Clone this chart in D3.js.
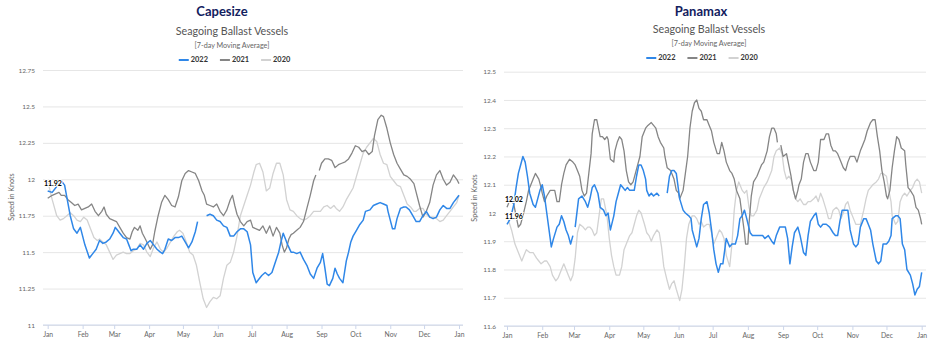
<!DOCTYPE html>
<html>
<head>
<meta charset="utf-8">
<script src="https://cdn.jsdelivr.net/npm/d3@7"></script>
<style>
  body { margin: 0; background: #fff; }
  svg text { font-family: Lato, "Open Sans", sans-serif; }
</style>
</head>
<body>
<svg id="vis" width="936" height="352"></svg>
<script>
// series names and y tick labels
const seriesNames = ['2022', '2021', '2020'];
const capeTicks = [11, 11.25, 11.5, 11.75, 12, 12.25, 12.5, 12.75];
const panaTicks = [11.6, 11.7, 11.8, 11.9, 12, 12.1, 12.2, 12.3, 12.4, 12.5];

// Capesize: day of year -> speed (knots), null = gap
const capeDays2022 = [0,4,8,12,15,20,23,26,29,31,33,37,40,43,46,49,52,55,58,60,62,64,67,70,72,74,76,79,82,85,88,91,94,97,100,102,104,107,110,113,116,119,122,125,128,131,133,137,141,144,147,150,153,156,159,162,165,168,171,174,177,180,182,185,187,190,193,196,199,202,205,207,209,211,213,216,218,221,224,227,230,233,236,239,242,244,246,248,250,253,255,257,259,262,265,267,269,271,274,277,280,282,286,289,292,295,298,301,302,304,306,308,310,313,316,318,321,324,327,330,333,336,339,342,345,348,351,354,357,360,363,365];
const cape2022 = [11.92,11.91,11.95,11.99,11.96,11.75,11.66,11.63,11.67,11.61,11.55,11.46,11.49,11.52,11.58,11.56,11.57,11.59,11.63,11.67,11.65,11.63,11.60,11.59,11.55,11.51,11.52,11.52,11.55,11.52,11.56,11.58,11.55,11.52,11.50,11.49,11.52,11.59,11.58,11.60,11.60,11.61,11.57,11.53,11.57,11.64,11.71,null,11.75,11.76,11.75,11.72,11.71,11.68,11.67,11.61,11.61,11.64,11.66,11.66,11.64,11.55,11.36,11.29,11.31,11.34,11.36,11.34,11.36,11.43,11.50,11.57,11.63,11.59,11.55,11.50,11.50,11.49,11.50,11.45,11.41,11.35,11.32,11.39,11.43,11.49,11.39,11.28,11.27,11.32,11.39,11.35,11.32,11.29,11.44,11.50,11.57,11.61,11.65,11.69,11.72,11.78,11.79,11.82,11.83,11.84,11.83,11.82,11.78,11.72,11.66,11.66,11.73,11.80,11.81,11.81,11.79,11.75,11.71,11.71,11.75,11.78,11.74,11.73,11.74,11.79,11.82,11.80,11.80,11.84,11.87,11.89];

const capeDays2021 = [0,4,7,10,12,15,18,21,24,27,30,33,36,39,42,45,48,50,52,55,58,61,64,67,70,73,75,77,80,82,84,86,88,91,93,95,98,101,104,107,110,113,116,119,122,125,128,131,134,137,139,141,144,147,150,153,156,159,162,164,166,168,171,174,177,180,182,185,188,191,194,197,200,203,206,208,210,212,214,216,218,221,224,227,230,233,236,238,239,241,243,246,249,252,255,258,261,264,267,270,273,276,279,282,285,288,290,293,296,298,301,304,307,310,313,316,319,322,325,327,330,333,336,339,342,345,348,351,354,357,360,363,365];
const cape2021 = [11.87,11.89,11.90,11.91,11.89,11.89,11.86,11.84,11.82,11.83,11.79,11.80,11.81,11.83,11.78,11.75,11.78,11.81,11.76,11.73,11.72,11.71,11.67,11.63,11.60,11.59,11.64,11.67,11.65,11.68,11.63,11.60,11.57,11.52,11.55,11.64,11.75,11.84,11.89,11.86,11.82,11.81,11.88,11.99,12.04,12.06,12.05,12.04,11.99,11.92,11.89,11.83,11.82,11.81,11.83,11.78,11.75,11.79,11.86,11.89,11.82,11.76,11.71,11.68,11.71,11.72,11.67,11.66,11.65,11.68,11.63,11.68,11.61,11.67,11.63,11.55,11.50,11.53,11.59,11.62,11.63,11.65,11.67,11.71,11.80,11.89,11.99,12.03,null,12.06,12.11,12.14,12.14,12.13,12.08,12.10,12.11,12.12,12.14,12.18,12.23,12.22,12.19,12.20,12.17,12.19,12.30,12.41,12.44,12.43,12.35,12.25,12.17,12.11,12.07,12.03,12.02,12.00,11.97,11.91,11.82,11.74,11.78,11.84,11.96,12.03,12.06,12.00,11.96,11.98,12.03,12.00,11.97];

const capeDays2020 = [0,4,8,11,14,17,20,23,26,29,32,35,38,41,44,46,49,52,55,58,61,64,67,70,73,76,79,82,85,88,91,94,97,100,103,106,109,112,115,117,120,123,126,129,132,135,138,141,144,147,150,153,156,159,162,165,168,171,174,177,180,183,185,188,191,194,197,200,203,206,209,212,215,218,221,224,227,230,233,236,239,242,245,248,251,254,256,259,262,265,268,271,274,277,280,283,286,289,292,295,298,301,304,307,310,313,316,319,322,325,327,330,333,336,339,342,345,348,351,354,357,360,363,365];
const cape2020 = [11.99,11.86,11.75,11.72,11.73,11.75,11.77,11.75,11.72,11.71,11.74,11.72,11.66,11.60,11.58,11.59,11.57,11.55,11.50,11.45,11.48,11.49,11.50,11.49,11.49,11.51,11.52,11.56,11.55,11.50,11.47,11.53,11.57,11.52,11.50,11.53,11.57,11.61,11.64,11.65,11.63,11.57,11.50,11.48,11.41,11.29,11.18,11.12,11.16,11.19,11.18,11.20,11.32,11.41,11.43,11.50,11.61,11.75,11.82,11.89,11.96,12.05,12.10,12.11,12.05,11.92,11.94,12.04,12.11,12.11,12.03,11.86,11.79,11.78,11.75,11.73,11.72,11.73,11.75,11.78,11.78,11.78,11.81,11.82,11.80,11.82,11.80,11.78,11.81,11.86,11.90,11.94,12.02,12.10,12.18,12.22,12.25,12.28,12.26,12.17,12.11,12.10,12.02,11.99,11.96,11.95,11.89,11.83,11.81,11.78,11.78,11.80,11.80,11.76,11.74,11.74,11.73,11.71,11.72,11.75,11.78,11.81,11.84,11.89];

// Panamax
const panaDays2022 = [0,3,6,8,10,12,14,16,18,20,23,25,27,29,31,33,35,37,39,41,44,46,48,50,52,54,56,58,59,60,63,66,69,71,73,75,77,80,82,85,87,89,91,94,96,98,100,102,104,106,108,110,112,114,116,118,120,122,123,125,127,129,132,134,137,141,143,145,147,149,151,152,155,157,160,162,163,165,167,169,171,173,176,178,180,182,184,186,188,190,192,193,196,198,201,203,205,207,209,211,214,216,218,220,223,225,227,230,233,235,237,240,243,245,247,249,251,253,256,258,261,263,265,267,270,272,274,276,278,281,284,287,289,291,293,295,298,300,302,305,307,309,311,314,316,318,320,322,325,327,329,331,334,336,338,339,342,344,346,348,350,352,355,357,359,361,363,365];
const pana2022 = [11.96,11.98,12.03,12.09,12.14,12.17,12.20,12.18,12.13,12.07,12.03,12.02,12.05,12.08,12.10,12.06,12.00,11.94,11.88,11.91,11.95,11.96,11.99,11.97,11.94,11.92,11.89,11.92,null,11.95,12.05,12.06,12.04,12.02,12.05,12.09,12.10,12.07,12.02,12.01,11.99,12.00,11.94,11.99,12.04,12.07,12.10,12.09,12.08,12.09,12.08,12.08,12.08,12.13,12.17,12.17,12.15,12.12,12.08,12.06,12.07,12.06,12.07,12.06,null,12.07,12.13,12.15,12.15,12.14,12.08,12.05,12.01,12.00,11.99,11.98,11.94,11.91,11.88,11.91,11.98,12.03,12.04,12.00,11.94,11.87,11.82,11.79,11.82,11.82,11.88,11.91,11.88,11.89,11.89,11.92,11.98,11.99,12.01,11.98,11.93,11.92,11.92,11.92,11.92,11.92,11.91,11.92,11.90,11.89,11.92,11.95,11.95,11.95,11.91,11.82,11.88,11.93,11.95,11.92,11.86,11.85,11.92,11.97,11.99,12.00,11.96,11.95,11.96,11.96,11.95,11.93,11.92,11.92,11.97,12.01,12.01,12.01,11.94,11.89,11.88,11.89,11.95,11.98,11.98,11.96,11.94,11.89,11.83,11.82,11.83,11.89,11.89,11.90,11.92,11.98,11.99,11.99,11.98,11.89,11.87,11.80,11.78,11.75,11.71,11.73,11.74,11.79];

const panaDays2021 = [0,3,6,8,10,12,14,17,19,21,23,25,28,30,31,33,35,38,40,42,44,46,48,50,52,55,58,60,62,64,66,68,70,72,74,75,77,79,80,82,84,86,88,89,91,94,95,97,99,101,103,105,107,109,111,113,115,117,119,122,124,127,129,131,133,135,138,139,141,144,146,147,149,151,152,155,157,159,161,163,165,167,169,171,173,176,178,180,182,185,187,189,191,193,196,198,200,202,205,207,209,210,212,213,215,217,220,222,224,226,229,231,233,235,237,238,239,241,243,246,248,250,252,254,256,257,259,261,263,265,267,270,272,274,276,279,281,283,285,287,289,291,293,296,298,300,302,304,306,308,311,313,315,317,320,322,324,326,328,330,332,334,335,337,339,341,343,345,347,350,351,353,355,358,360,362,364,365];
const pana2021 = [12.02,12.05,12.03,11.99,11.95,11.96,11.99,12.04,12.08,12.10,12.12,12.14,12.12,12.09,12.07,12.04,12.06,12.08,12.08,12.08,12.04,12.04,12.10,12.14,12.17,12.19,12.18,12.17,12.15,12.13,12.08,12.06,12.07,12.14,12.21,12.28,12.33,12.33,12.31,12.27,12.27,12.26,12.27,12.26,12.19,12.18,12.22,12.25,12.27,12.26,12.22,12.15,12.11,12.10,12.11,12.14,12.17,12.20,12.27,12.30,12.31,12.32,12.31,12.30,12.27,12.25,12.23,12.20,12.16,12.15,12.13,12.12,12.08,12.07,12.05,12.08,12.14,12.20,12.30,12.36,12.39,12.40,12.37,12.36,12.33,12.33,12.31,12.29,12.25,12.21,12.21,12.25,12.22,12.18,12.15,12.14,12.12,12.08,12.05,11.99,11.93,11.89,11.89,11.96,12.06,12.11,12.13,12.15,12.17,12.18,12.22,12.27,12.30,12.30,12.28,12.25,null,12.24,12.20,12.21,12.17,12.13,12.08,12.05,12.08,12.10,12.12,12.18,12.21,12.21,12.18,12.15,12.15,12.18,12.26,12.26,12.28,12.28,12.24,12.22,12.22,12.21,12.19,12.16,12.15,12.18,12.20,12.20,12.20,12.18,12.22,12.24,12.26,12.29,12.32,12.33,12.33,12.27,12.22,12.15,12.11,12.06,12.05,12.08,12.16,12.22,12.27,12.26,12.23,12.22,12.17,12.09,12.08,12.06,12.02,12.01,11.98,11.96];

const panaDays2020 = [0,4,7,10,13,15,17,20,23,26,28,30,33,35,38,40,43,45,47,50,52,54,56,58,60,62,64,67,69,71,73,75,77,79,81,83,85,88,90,92,94,96,99,101,103,105,108,110,112,114,116,118,121,123,125,127,129,132,134,136,138,141,143,145,147,149,152,154,156,158,160,163,165,167,169,171,173,176,178,180,182,185,187,189,191,193,196,198,200,202,204,207,209,211,213,215,217,220,222,224,226,229,231,233,235,237,240,242,244,246,248,250,252,254,256,258,261,263,265,267,270,272,274,276,278,281,283,285,287,290,292,294,296,298,300,302,305,307,309,311,314,316,318,320,322,325,327,329,331,334,336,338,339,342,344,346,348,350,352,355,357,359,361,363,365];
const pana2020 = [11.99,11.94,11.89,11.86,11.83,11.85,11.87,11.86,11.86,11.84,11.83,11.82,11.83,11.83,11.81,11.78,11.76,11.77,11.79,11.82,11.80,11.78,11.76,11.78,11.84,11.93,11.96,11.95,11.94,11.95,11.95,11.94,11.92,11.93,11.99,12.05,12.05,11.99,11.91,11.85,11.81,11.78,11.78,11.81,11.87,11.89,11.92,11.93,11.96,11.99,12.01,12.00,11.96,11.93,11.92,11.90,11.92,11.94,11.93,11.88,11.81,11.76,11.73,11.75,11.76,11.73,11.69,11.73,11.81,11.91,11.96,11.99,11.99,11.98,11.96,11.97,11.95,11.96,11.96,11.93,11.89,11.92,11.94,11.93,11.91,11.85,11.81,11.89,12.01,12.08,12.11,12.08,12.07,12.08,12.02,11.99,11.99,12.01,12.05,12.07,12.09,12.11,12.13,12.15,12.20,12.22,12.23,12.21,12.15,12.12,12.13,12.12,12.08,12.05,12.04,12.05,12.03,12.03,12.04,12.04,12.05,12.06,12.04,12.07,12.05,12.01,11.98,11.98,12.01,12.02,12.01,11.98,12.00,12.03,12.04,12.01,11.98,11.96,11.96,11.96,12.01,12.05,12.08,12.09,12.10,12.11,12.12,12.14,12.14,12.13,12.08,12.04,11.99,11.96,11.97,12.04,12.06,12.07,12.06,12.08,12.09,12.11,12.12,12.11,12.07];

const seriesColors = ['#2f87e8', '#858585', '#d2d2d2'];
const seriesWidths = [1.5, 1.3, 1.3];

const vis = d3.select('#vis');
const yearStart = Date.UTC(2022, 0, 1);
const toDate = day => new Date(yearStart + day * 864e5);

function drawChart(c) {
  const g = vis.append('g');

  const x = d3.scaleUtc().domain([toDate(0), toDate(365)]).range(c.xRange);
  const y = d3.scaleLinear().domain(d3.extent(c.yTicks)).range([c.plotBottom, c.plotTop]);

  // gridlines and y labels
  const ya = g.append('g')
    .attr('transform', `translate(${c.plotLeft},0)`)
    .call(d3.axisLeft(y).tickValues(c.yTicks).tickFormat(d => String(d))
      .tickSize(-(c.plotRight - c.plotLeft)).tickPadding(8))
    .attr('font-family', null).attr('font-size', null);
  ya.select('.domain').remove();
  ya.selectAll('line').attr('stroke', '#e6e6e6');
  ya.selectAll('text').attr('fill', '#666').style('font-size', '6.5px');

  // x axis
  const xa = g.append('g')
    .attr('transform', `translate(0,${c.plotBottom})`)
    .call(d3.axisBottom(x).ticks(d3.utcMonth.every(1)).tickFormat(d3.utcFormat('%b'))
      .tickSize(4).tickPadding(3))
    .attr('font-family', null).attr('font-size', null);
  xa.select('.domain').remove();
  xa.append('line')
    .attr('x1', c.plotLeft).attr('x2', c.plotRight)
    .attr('stroke', '#ccd6eb');
  xa.selectAll('.tick line').attr('stroke', '#ccd6eb');
  xa.selectAll('text').attr('fill', '#666').style('font-size', '6.8px');

  // y title
  g.append('text')
    .attr('transform', `translate(${c.yTitleX},${c.yTitleY}) rotate(-90)`)
    .attr('text-anchor', 'middle')
    .attr('dominant-baseline', 'middle')
    .attr('fill', '#666')
    .style('font-size', '7.2px')
    .text('Speed in Knots');

  // lines, 2020 underneath
  const line = d3.line()
    .defined(d => d.v != null)
    .x(d => x(toDate(d.day)))
    .y(d => y(d.v));

  const series = c.series.map((s, i) => ({
    name: seriesNames[i],
    color: seriesColors[i],
    width: seriesWidths[i],
    label: s.label,
    pts: s.days.map((day, j) => ({ day: day, v: s.values[j] }))
  }));

  g.selectAll('path.series')
    .data(series.slice().reverse())
    .enter()
    .append('path')
      .classed('series', true)
      .attr('d', d => line(d.pts))
      .attr('fill', 'none')
      .attr('stroke', d => d.color)
      .attr('stroke-width', d => d.width)
      .attr('stroke-linejoin', 'round');

  // data labels on first point
  series.filter(s => s.label).forEach(s => {
    const p = s.pts[0];
    g.append('text')
      .attr('x', c.plotLeft + 1)
      .attr('y', y(p.v) - 7)
      .attr('dominant-baseline', 'middle')
      .attr('fill', '#000')
      .attr('stroke', '#fff')
      .attr('stroke-width', 2)
      .attr('paint-order', 'stroke')
      .style('font-size', '7px')
      .style('font-weight', 'bold')
      .text(d3.format('.2f')(p.v));
  });

  // titles
  g.append('text')
    .attr('x', c.titleX).attr('y', c.titleY)
    .attr('text-anchor', 'middle').attr('dominant-baseline', 'middle')
    .attr('fill', '#12205e')
    .style('font-size', '13px').style('font-weight', 'bold')
    .text(c.title);
  g.append('text')
    .attr('x', c.subX).attr('y', c.subY)
    .attr('text-anchor', 'middle').attr('dominant-baseline', 'middle')
    .attr('fill', '#555')
    .style('font-size', '10.7px')
    .text('Seagoing Ballast Vessels');
  g.append('text')
    .attr('x', c.subX).attr('y', c.sub2Y)
    .attr('text-anchor', 'middle').attr('dominant-baseline', 'middle')
    .attr('fill', '#666')
    .style('font-size', '7.2px')
    .text('[7-day Moving Average]');

  // legend
  const lg = g.append('g');
  let cursor = 0;
  series.forEach(s => {
    const item = lg.append('g').attr('transform', `translate(${cursor},0)`);
    item.append('line')
      .attr('x1', 0).attr('x2', 10)
      .attr('stroke', s.color).attr('stroke-width', 2);
    const t = item.append('text')
      .attr('x', 12)
      .attr('dominant-baseline', 'middle')
      .attr('fill', '#333')
      .style('font-size', '7.4px')
      .style('font-weight', 'bold')
      .text(s.name);
    cursor += 12 + t.node().getComputedTextLength() + 12;
  });
  const legendWidth = cursor - 12;
  lg.attr('transform', `translate(${c.legendX - legendWidth / 2},${c.legendY})`);
}

drawChart({
  title: 'Capesize',
  plotLeft: 43, plotRight: 463, plotTop: 70, plotBottom: 325,
  xRange: [47.7, 459],
  yTicks: capeTicks,
  yTitleX: 12, yTitleY: 197,
  titleX: 222, titleY: 13,
  subX: 232, subY: 32.5, sub2Y: 46,
  legendX: 234.5, legendY: 60,
  series: [
    { days: capeDays2022, values: cape2022, label: true },
    { days: capeDays2021, values: cape2021, label: false },
    { days: capeDays2020, values: cape2020, label: false }
  ]
});

drawChart({
  title: 'Panamax',
  plotLeft: 504, plotRight: 926, plotTop: 71.7, plotBottom: 326,
  xRange: [507, 921.7],
  yTicks: panaTicks,
  yTitleX: 475, yTitleY: 198,
  titleX: 701, titleY: 13,
  subX: 709, subY: 30.7, sub2Y: 44,
  legendX: 702, legendY: 58,
  series: [
    { days: panaDays2022, values: pana2022, label: true },
    { days: panaDays2021, values: pana2021, label: true },
    { days: panaDays2020, values: pana2020, label: false }
  ]
});
</script>
</body>
</html>
